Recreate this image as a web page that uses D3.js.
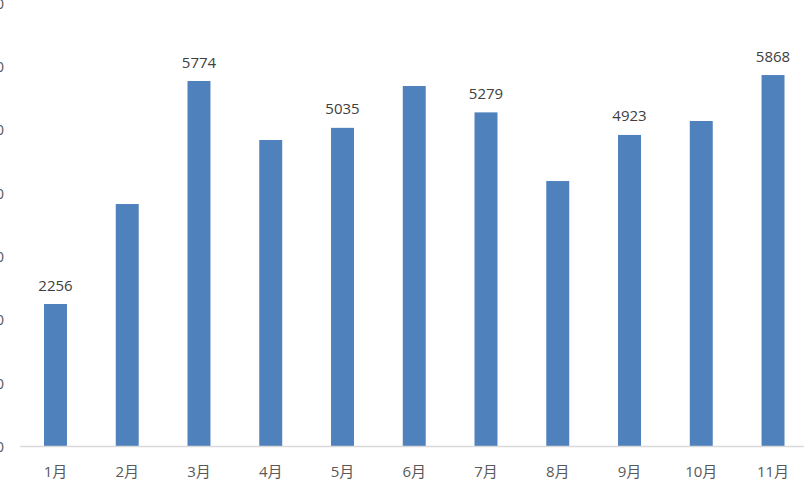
<!DOCTYPE html>
<html><head><meta charset="utf-8">
<script src="https://cdn.jsdelivr.net/npm/d3@7"></script>
<style>body{margin:0;background:#fff}svg{display:block}</style>
</head><body>
<script>
const months = ["1月","2月","3月","4月","5月","6月","7月","8月","9月","10月","11月"];
const values = [2256,3833,5774,4843,5035,5695,5279,4196,4923,5143,5868];
const labeled = [true,false,true,false,true,false,true,false,true,false,true];
const yTicks = [0,1000,2000,3000,4000,5000,6000,7000];

const W=804,H=480;
const font = '"Open Sans","Noto Sans CJK SC",sans-serif';
const svg = d3.select("body").append("svg").attr("width",W).attr("height",H);
const x = d3.scaleBand().domain(months).range([19.6,808.9]).paddingInner(0.68).paddingOuter(0.34);
const y = d3.scaleLinear().domain([0,7000]).range([447,3.3]);

// y tick labels (clipped at left)
svg.append("g").selectAll("text").data(yTicks).join("text")
  .attr("x",4).attr("y",d=>y(d)).attr("dy","0.35em").attr("text-anchor","end")
  .attr("font-family",font).attr("font-size",15).attr("fill","#595959").text(d=>d);

// bars
svg.append("g").selectAll("rect").data(values).join("rect")
  .attr("x",(d,i)=>x(months[i])).attr("width",x.bandwidth())
  .attr("y",d=>y(d)).attr("height",d=>y(0)-y(d)).attr("fill","#4f81bd");

// axis line
svg.append("line").attr("x1",20).attr("x2",W).attr("y1",446.5).attr("y2",446.5)
  .attr("stroke","#d9d9d9").attr("stroke-width",1.3);

// month labels
svg.append("g").selectAll("text").data(months).join("text")
  .attr("x",d=>x(d)+x.bandwidth()/2).attr("y",476.5).attr("text-anchor","middle")
  .attr("font-family",font).attr("font-size",15).attr("fill","#595959").text(d=>d);

// data labels
svg.append("g").selectAll("text").data(values.map((v,i)=>({v,i})).filter(d=>labeled[d.i])).join("text")
  .attr("x",d=>x(months[d.i])+x.bandwidth()/2).attr("y",d=>y(d.v)-13.5).attr("text-anchor","middle")
  .attr("font-family",font).attr("font-size",15).attr("fill","#404040").text(d=>d.v);
</script>
</body></html>
